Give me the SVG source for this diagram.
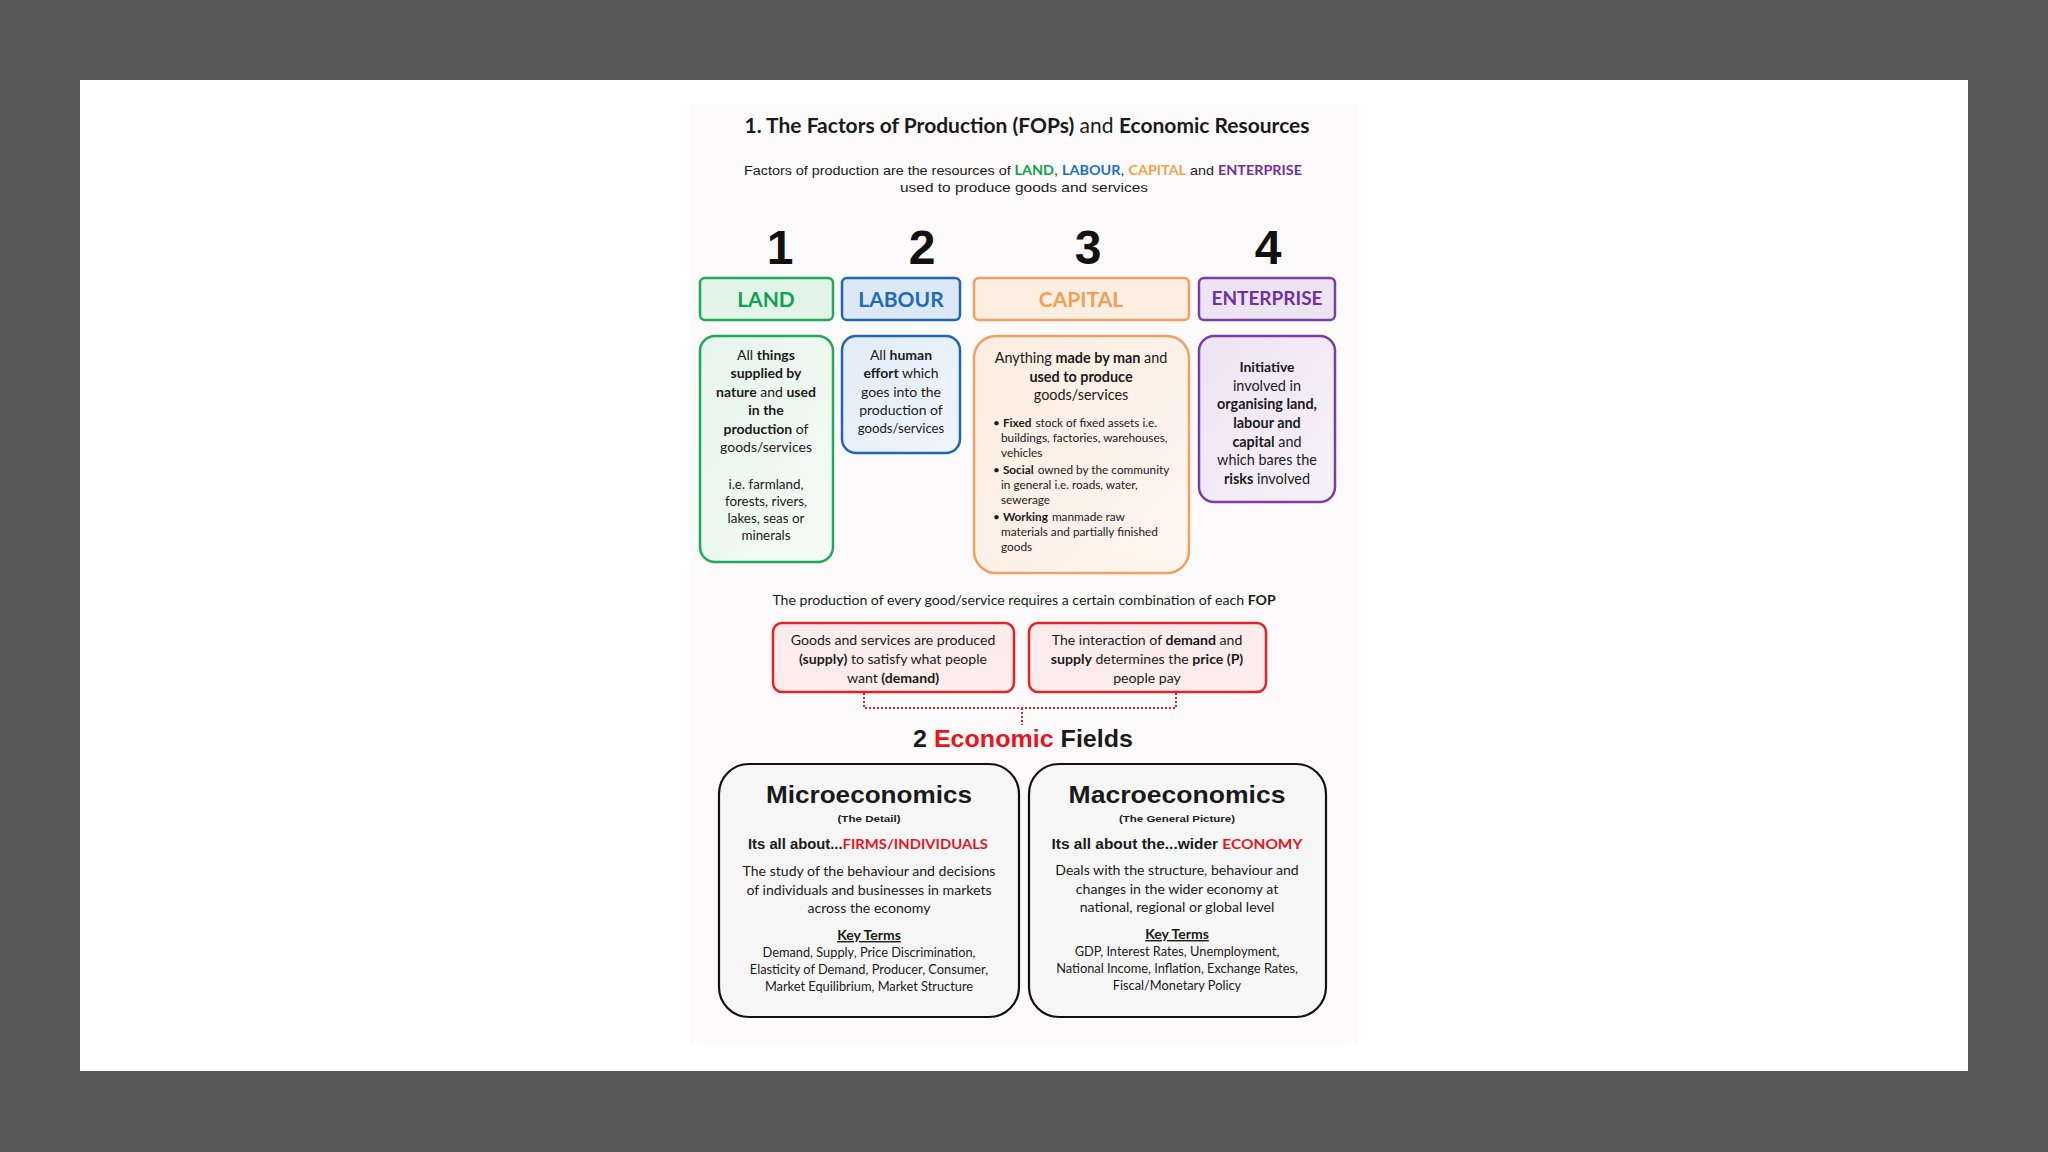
<svg xmlns="http://www.w3.org/2000/svg" width="2048" height="1152" viewBox="0 0 2048 1152">
<defs>
<style>
text{font-family:Lato,"Liberation Sans",sans-serif;fill:#1a1a1a;text-anchor:middle}
.b{font-weight:700}
.cg{font-family:"Liberation Sans","DejaVu Sans",sans-serif}
.d{font-size:14px}
.s{font-size:11.8px;text-anchor:start}
.lbl{font-size:21px;font-weight:700}
.num{font-family:"Liberation Sans",sans-serif;font-weight:700;font-size:48px;fill:#111}
.red{fill:#e8141e}
</style>
<linearGradient id="gLand" x1="0" y1="0" x2="1" y2="1"><stop offset="0" stop-color="#e6f5eb"/><stop offset="1" stop-color="#f4fbf6"/></linearGradient>
<linearGradient id="gLab" x1="0" y1="0" x2="1" y2="1"><stop offset="0" stop-color="#e0ecf7"/><stop offset="1" stop-color="#eff5fb"/></linearGradient>
<linearGradient id="gCap" x1="0" y1="0" x2="1" y2="1"><stop offset="0" stop-color="#fdede0"/><stop offset="1" stop-color="#fdf5ee"/></linearGradient>
<linearGradient id="gEnt" x1="0" y1="0" x2="1" y2="1"><stop offset="0" stop-color="#ede4f4"/><stop offset="1" stop-color="#f6f1f9"/></linearGradient>
</defs>
<rect width="2048" height="1152" fill="#595959"/>
<rect x="80" y="80" width="1888" height="991" fill="#ffffff"/>
<rect x="690" y="104" width="668" height="941" fill="#fcfafa"/>

<g id="title">
<text x="1027" y="133" font-size="21" class="b" textLength="565" lengthAdjust="spacingAndGlyphs">1. The Factors of Production (FOPs)<tspan font-weight="400"> and </tspan>Economic Resources</text>
</g>
<g id="subtitle">
<text x="1023" y="175" class="cg" font-size="13" textLength="558" lengthAdjust="spacingAndGlyphs">Factors of production are the resources of <tspan class="b" font-family="Lato" fill="#14a04f">LAND</tspan>, <tspan class="b" font-family="Lato" fill="#1f6fbf">LABOUR</tspan>, <tspan class="b" font-family="Lato" fill="#f4a24a">CAPITAL</tspan> and <tspan class="b" font-family="Lato" fill="#7030a0">ENTERPRISE</tspan></text>
<text x="1024" y="192" class="cg" font-size="13" textLength="248" lengthAdjust="spacingAndGlyphs">used to produce goods and services</text>
</g>

<g id="land">
<text x="780" y="264" class="num">1</text>
<rect x="700" y="278" width="133" height="42" rx="5" fill="#e2f3e8" stroke="#22a85a" stroke-width="2.5"/>
<text x="766" y="307" class="lbl" style="fill:#12a150">LAND</text>
<rect x="700" y="336" width="133" height="226" rx="15" fill="url(#gLand)" stroke="#22a85a" stroke-width="2.5"/>
<text class="d" x="766" y="360">All <tspan class="b">things</tspan></text>
<text class="d b" x="766" y="378">supplied by</text>
<text class="d" x="766" y="397"><tspan class="b">nature</tspan> and <tspan class="b">used</tspan></text>
<text class="d b" x="766" y="415">in the</text>
<text class="d" x="766" y="434"><tspan class="b">production</tspan> of</text>
<text class="d" x="766" y="452">goods/services</text>
<text font-size="13.4" x="766" y="489">i.e. farmland,</text>
<text font-size="13.4" x="766" y="506">forests, rivers,</text>
<text font-size="13.4" x="766" y="523">lakes, seas or</text>
<text font-size="13.4" x="766" y="540">minerals</text>
</g>

<g id="labour">
<text x="922" y="264" class="num">2</text>
<rect x="842" y="278" width="118" height="42" rx="5" fill="#dce8f5" stroke="#2266b0" stroke-width="2.5"/>
<text x="901" y="307" class="lbl" style="fill:#1c6db5">LABOUR</text>
<rect x="842" y="336" width="118" height="117" rx="14" fill="url(#gLab)" stroke="#2266b0" stroke-width="2.5"/>
<text class="d" x="901" y="360">All <tspan class="b">human</tspan></text>
<text class="d" x="901" y="378"><tspan class="b">effort</tspan> which</text>
<text class="d" x="901" y="397">goes into the</text>
<text class="d" x="901" y="415">production of</text>
<text font-size="13.2" x="901" y="433">goods/services</text>
</g>

<g id="capital">
<text x="1088" y="264" class="num">3</text>
<rect x="974" y="278" width="215" height="42" rx="5" fill="#fdeee2" stroke="#f0a060" stroke-width="2.5"/>
<text x="1081" y="307" class="lbl" style="fill:#f2a055">CAPITAL</text>
<rect x="974" y="336" width="215" height="237" rx="22" fill="url(#gCap)" stroke="#f0a060" stroke-width="2.5"/>
<text font-size="14.4" x="1081" y="363">Anything <tspan class="b">made by man</tspan> and</text>
<text font-size="14.4" class="b" x="1081" y="382">used to produce</text>
<text font-size="14.4" x="1081" y="400">goods/services</text>
<text class="s" x="993" y="427">• <tspan class="b">Fixed</tspan><tspan dx="4">stock of fixed assets i.e.</tspan></text>
<text class="s" x="1001" y="442">buildings, factories, warehouses,</text>
<text class="s" x="1001" y="457">vehicles</text>
<text class="s" x="993" y="474">• <tspan class="b">Social</tspan><tspan dx="4">owned by the community</tspan></text>
<text class="s" x="1001" y="489">in general i.e. roads, water,</text>
<text class="s" x="1001" y="504">sewerage</text>
<text class="s" x="993" y="521">• <tspan class="b">Working</tspan><tspan dx="4">manmade raw</tspan></text>
<text class="s" x="1001" y="536">materials and partially finished</text>
<text class="s" x="1001" y="551">goods</text>
</g>

<g id="enterprise">
<text x="1268" y="264" class="num">4</text>
<rect x="1199" y="278" width="136" height="42" rx="5" fill="#ece4f2" stroke="#7a3da6" stroke-width="2.5"/>
<text x="1267" y="305" font-size="19" class="b" style="fill:#7030a0">ENTERPRISE</text>
<rect x="1199" y="336" width="136" height="166" rx="15" fill="url(#gEnt)" stroke="#7a3da6" stroke-width="2.5"/>
<text class="d b" x="1267" y="372" font-size="14.4">Initiative</text>
<text class="d" x="1267" y="391" style="font-size:14.4px">involved in</text>
<text class="d b" x="1267" y="409" style="font-size:14.4px">organising land,</text>
<text class="d b" x="1267" y="428" style="font-size:14.4px">labour and</text>
<text class="d" x="1267" y="447" style="font-size:14.4px"><tspan class="b">capital</tspan> and</text>
<text class="d" x="1267" y="465" style="font-size:14.4px">which bares the</text>
<text class="d" x="1267" y="484" style="font-size:14.4px"><tspan class="b">risks</tspan> involved</text>
</g>

<g id="combination">
<text x="1024" y="605" font-size="14.1">The production of every good/service requires a certain combination of each <tspan class="b">FOP</tspan></text>
</g>

<g id="supply-demand">
<rect x="773" y="623" width="241" height="69" rx="9" fill="#fcecec" stroke="#e3232a" stroke-width="2.5"/>
<text font-size="14.1" x="893" y="645">Goods and services are produced</text>
<text font-size="14.1" x="893" y="664"><tspan class="b">(supply)</tspan> to satisfy what people</text>
<text font-size="14.1" x="893" y="683">want <tspan class="b">(demand)</tspan></text>
</g>
<g id="price">
<rect x="1029" y="623" width="237" height="69" rx="9" fill="#fcecec" stroke="#e3232a" stroke-width="2.5"/>
<text font-size="14.1" x="1147" y="645">The interaction of <tspan class="b">demand</tspan> and</text>
<text font-size="14.1" x="1147" y="664"><tspan class="b">supply</tspan> determines the <tspan class="b">price (P)</tspan></text>
<text font-size="14.1" x="1147" y="683">people pay</text>
</g>

<g id="connectors">
<path d="M864 693 V708 H1176 V693 M1022 708 V725" fill="none" stroke="#e3232a" stroke-width="2" stroke-dasharray="2 2"/>
</g>

<g id="fields-heading">
<text x="1023" y="747" class="cg b" font-size="24" textLength="220" lengthAdjust="spacingAndGlyphs">2 <tspan class="red">Economic</tspan> Fields</text>
</g>

<g id="micro">
<rect x="719" y="764" width="300" height="253" rx="30" fill="#f7f6f6" stroke="#111" stroke-width="2.2"/>
<text x="869" y="803" class="cg b" font-size="24" textLength="206" lengthAdjust="spacingAndGlyphs">Microeconomics</text>
<text x="869" y="822" class="cg b" font-size="9.5" textLength="63" lengthAdjust="spacingAndGlyphs">(The Detail)</text>
<text x="868" y="849" class="cg b" font-size="14" textLength="240" lengthAdjust="spacingAndGlyphs">Its all about...<tspan class="red" font-family="Lato">FIRMS/INDIVIDUALS</tspan></text>
<text x="869" y="876" font-size="14.1">The study of the behaviour and decisions</text>
<text x="869" y="895" font-size="14.1">of individuals and businesses in markets</text>
<text x="869" y="913" font-size="14.1">across the economy</text>
<text class="d b" x="869" y="940" text-decoration="underline">Key Terms</text>
<text font-size="12.8" x="869" y="957">Demand, Supply, Price Discrimination,</text>
<text font-size="12.8" x="869" y="974">Elasticity of Demand, Producer, Consumer,</text>
<text font-size="12.8" x="869" y="991">Market Equilibrium,  Market Structure</text>
</g>

<g id="macro">
<rect x="1029" y="764" width="297" height="253" rx="30" fill="#f7f6f6" stroke="#111" stroke-width="2.2"/>
<text x="1177" y="803" class="cg b" font-size="24" textLength="217" lengthAdjust="spacingAndGlyphs">Macroeconomics</text>
<text x="1177" y="822" class="cg b" font-size="9.5" textLength="116" lengthAdjust="spacingAndGlyphs">(The General Picture)</text>
<text x="1177" y="849" class="cg b" font-size="14" textLength="251" lengthAdjust="spacingAndGlyphs">Its all about the...wider <tspan class="red" font-family="Lato">ECONOMY</tspan></text>
<text x="1177" y="875" font-size="14.1">Deals with the structure, behaviour and</text>
<text x="1177" y="894" font-size="14.1">changes in the wider economy at</text>
<text x="1177" y="912" font-size="14.1">national, regional or global level</text>
<text class="d b" x="1177" y="939" text-decoration="underline">Key Terms</text>
<text font-size="12.8" x="1177" y="956">GDP, Interest Rates, Unemployment,</text>
<text font-size="12.8" x="1177" y="973">National Income, Inflation, Exchange Rates,</text>
<text font-size="12.8" x="1177" y="990">Fiscal/Monetary Policy</text>
</g>
</svg>
